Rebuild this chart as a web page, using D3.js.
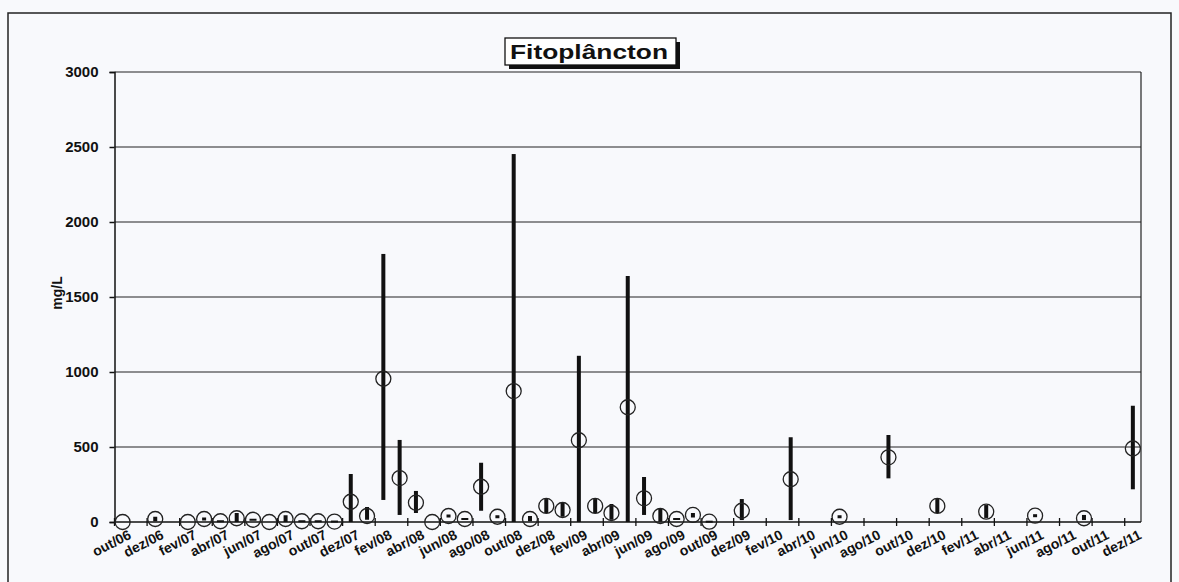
<!DOCTYPE html>
<html>
<head>
<meta charset="utf-8">
<script src="https://cdn.jsdelivr.net/npm/d3@7"></script>
<style>
  body { margin: 0; background: #f8f9fc; }
  svg { display: block; }
  text { font-family: "Liberation Sans", Arial, sans-serif; font-weight: bold; fill: #111; }
</style>
</head>
<body>
<svg id="canvas" width="1179" height="582"></svg>
<script>
// month labels shown on the axis (every second month)
let tickLabels = [
  "out/06", "dez/06", "fev/07", "abr/07", "jun/07", "ago/07", "out/07", "dez/07",
  "fev/08", "abr/08", "jun/08", "ago/08", "out/08", "dez/08", "fev/09", "abr/09",
  "jun/09", "ago/09", "out/09", "dez/09", "fev/10", "abr/10", "jun/10", "ago/10",
  "out/10", "dez/10", "fev/11", "abr/11", "jun/11", "ago/11", "out/11", "dez/11"
];

// sampling months and values (mg/L)
let sampleMonths = [
  "out/06", "dez/06", "fev/07", "mar/07", "abr/07", "mai/07", "jun/07", "jul/07",
  "ago/07", "set/07", "out/07", "nov/07", "dez/07", "jan/08", "fev/08", "mar/08",
  "abr/08", "mai/08", "jun/08", "jul/08", "ago/08", "set/08", "out/08", "nov/08",
  "dez/08", "jan/09", "fev/09", "mar/09", "abr/09", "mai/09", "jun/09", "jul/09",
  "ago/09", "set/09", "out/09", "dez/09", "mar/10", "jun/10", "set/10", "dez/10",
  "mar/11", "jun/11", "set/11", "dez/11"
];
let meanValues = [
  0, 20, 0, 20, 5, 25, 15, 0,
  20, 5, 5, 3, 135, 40, 955, 293,
  129, 0, 40, 20, 235, 35, 873, 20,
  107, 80, 545, 107, 60, 765, 158, 40,
  20, 47, 2, 75, 285, 35, 431, 107,
  69, 42, 25, 490
];
let minValues = [
  null, 5, null, 10, 5, 0, 15, null,
  0, 5, 5, 3, 0, 15, 147, 47,
  60, null, 30, 20, 75, 25, 0, 5,
  60, 35, 0, 60, 15, 0, 47, 2,
  20, 30, 0, 13, 13, 25, 291, 60,
  27, 32, 13, 218
];
let maxValues = [
  null, 35, null, 30, 5, 60, 15, null,
  45, 5, 5, 3, 320, 100, 1787, 547,
  207, null, 50, 20, 395, 45, 2453, 40,
  153, 129, 1108, 153, 120, 1640, 300, 93,
  20, 60, 10, 153, 565, 45, 580, 153,
  113, 52, 47, 775
];
let yTicks = [0, 500, 1000, 1500, 2000, 2500, 3000];

let monthNames = ["jan", "fev", "mar", "abr", "mai", "jun", "jul", "ago", "set", "out", "nov", "dez"];
let allMonths = [];
for (let yr = 2006; yr <= 2011; yr++) {
  monthNames.forEach((m, i) => {
    if (yr === 2006 && i < 9) return;
    allMonths.push(m + "/" + String(yr).slice(2));
  });
}

let canvas = d3.select("#canvas");

let plotLeft = 114.5, plotRight = 1141, plotTop = 72, plotBottom = 522;

let x = d3.scaleBand().domain(allMonths).range([plotLeft, plotRight]).padding(0);
let y = d3.scaleLinear().domain([0, 3000]).range([plotBottom, plotTop]);

// outer frame
canvas.append("rect")
  .attr("x", 8).attr("y", 13)
  .attr("width", 1163).attr("height", 600)
  .attr("fill", "none").attr("stroke", "#222").attr("stroke-width", 1.5);

// gridlines
canvas.selectAll(".grid")
  .data(yTicks.filter((d) => d > 0))
  .enter()
  .append("line")
  .attr("x1", plotLeft).attr("x2", plotRight)
  .attr("y1", (d) => y(d)).attr("y2", (d) => y(d))
  .attr("stroke", "#222").attr("stroke-width", 1.2);

// right border of plot
canvas.append("line")
  .attr("x1", plotRight).attr("x2", plotRight)
  .attr("y1", plotTop).attr("y2", plotBottom)
  .attr("stroke", "#222").attr("stroke-width", 1.2);

// y axis
let yAxis = d3.axisLeft(y)
  .tickValues(yTicks)
  .tickFormat(d3.format("d"))
  .tickSize(5)
  .tickPadding(11);
let gy = canvas.append("g")
  .attr("transform", "translate(" + plotLeft + ",0)")
  .attr("font-size", 15)
  .attr("font-family", "'Liberation Sans', Arial, sans-serif")
  .call(yAxis);
gy.select(".domain").attr("stroke", "#111").attr("stroke-width", 1.5);
gy.selectAll(".tick line").attr("stroke", "#111").attr("stroke-width", 1.5);
gy.selectAll(".tick text")
  .style("font-size", "15px")
  .style("font-weight", "bold")
  .attr("fill", "#111");

// x axis line and cross ticks
canvas.append("line")
  .attr("x1", plotLeft).attr("x2", plotRight)
  .attr("y1", plotBottom).attr("y2", plotBottom)
  .attr("stroke", "#111").attr("stroke-width", 1.5);

canvas.selectAll(".xtick")
  .data(tickLabels)
  .enter()
  .append("line")
  .attr("x1", (d) => x(d)).attr("x2", (d) => x(d))
  .attr("y1", plotBottom - 4).attr("y2", plotBottom + 4)
  .attr("stroke", "#111").attr("stroke-width", 1.3);

canvas.selectAll(".xlabel")
  .data(tickLabels)
  .enter()
  .append("text")
  .attr("text-anchor", "end")
  .attr("dy", "0.72em")
  .attr("transform", (d) => "translate(" + (x(d) + x.bandwidth() / 2 + 5) + "," + (plotBottom + 7) + ") rotate(-27)")
  .style("font-size", "14px")
  .text((d) => d);

// y axis title
canvas.append("text")
  .attr("transform", "translate(62,293) rotate(-90)")
  .attr("text-anchor", "middle")
  .style("font-size", "14px")
  .text("mg/L");

// range bars
let cx = (d) => x(d) + x.bandwidth() / 2;

let samples = sampleMonths.map((m, i) => ({
  month: m, mean: meanValues[i], low: minValues[i], high: maxValues[i]
}));

canvas.selectAll(".range")
  .data(samples.filter((d) => d.low !== null))
  .enter()
  .append("rect")
  .attr("x", (d) => {
    let h = y(d.low) - y(d.high);
    return h < 2 ? cx(d.month) - 3.5 : cx(d.month) - 2;
  })
  .attr("width", (d) => (y(d.low) - y(d.high) < 2 ? 7 : 4))
  .attr("y", (d) => {
    let h = y(d.low) - y(d.high);
    return h < 2 ? y(d.mean) - 1 : y(d.high);
  })
  .attr("height", (d) => Math.max(2, y(d.low) - y(d.high)))
  .attr("fill", "#111");

// mean markers
canvas.selectAll(".mean")
  .data(samples)
  .enter()
  .append("circle")
  .attr("cx", (d) => cx(d.month))
  .attr("cy", (d) => y(d.mean))
  .attr("r", 7.5)
  .attr("fill", "none")
  .attr("stroke", "#222")
  .attr("stroke-width", 1.3);

// title box with shadow
canvas.append("rect")
  .attr("x", 509).attr("y", 42)
  .attr("width", 171).attr("height", 27)
  .attr("fill", "#111");
canvas.append("rect")
  .attr("x", 505).attr("y", 38)
  .attr("width", 171).attr("height", 27)
  .attr("fill", "#fff").attr("stroke", "#111").attr("stroke-width", 1.3);
canvas.append("text")
  .attr("x", 510).attr("y", 59)
  .attr("textLength", 158)
  .attr("lengthAdjust", "spacingAndGlyphs")
  .style("font-size", "21px")
  .text("Fitoplâncton");
</script>
</body>
</html>
